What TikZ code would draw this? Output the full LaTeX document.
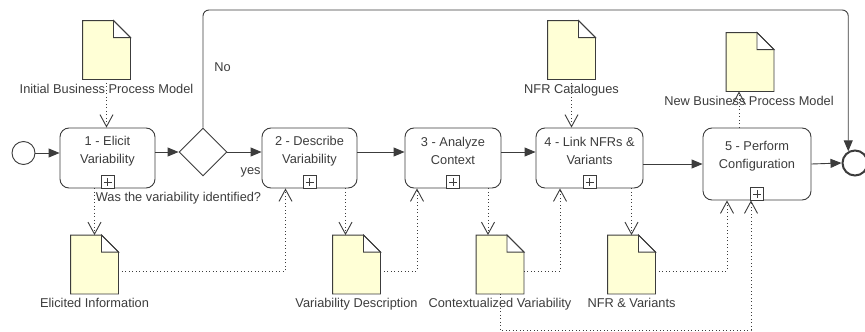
\documentclass[tikz,border=0pt]{standalone}
\usepackage{fontspec}
\setmainfont{Liberation Sans}
\usetikzlibrary{shapes.geometric, arrows.meta, positioning}

\definecolor{docfill}{HTML}{FFFFD6}
\definecolor{ink}{HTML}{3C3C3C}

\tikzset{%
task/.style={
    rectangle, draw=ink, rounded corners=9pt,
    minimum height=60pt, inner sep=0pt
  },
tasktext/.style={align=center, text=ink, font=\fontsize{12.8}{18}\selectfont},
gateway/.style={diamond, draw=ink, fill=white,
    minimum width=48pt, minimum height=48pt, inner sep=0pt},
event/.style={circle, draw=ink, fill=white, inner sep=0pt},
docbox/.style={rectangle, minimum width=47pt, minimum height=58pt, inner sep=0pt},
doclabel/.style={text=ink, inner sep=1pt, font=\fontsize{12.8}{14}\selectfont},
flow/.style={draw=ink, -{Triangle[length=11pt,width=9pt]}},
assoc/.style={draw=ink, dash pattern=on 1pt off 2.5pt,
    -{Straight Barb[length=12pt,width=13pt]}}
}

\newcommand\docshape[1]{%
  \fill[docfill] (#1.south west) -- (#1.north west) -- ([xshift=-17pt]#1.north east)
    -- ([yshift=-17pt]#1.north east) -- (#1.south east) -- cycle;
  \draw[ink, fill=white] ([xshift=-17pt]#1.north east) -- ([yshift=-17pt]#1.north east)
    -- ([xshift=-17pt,yshift=-17pt]#1.north east) -- cycle;
  \draw[ink] (#1.south west) -- (#1.north west) -- ([xshift=-17pt]#1.north east)
    -- ([yshift=-17pt]#1.north east) -- (#1.south east) -- cycle;
}
\newcommand\subproc[1]{%
  \draw[ink, fill=white] ([xshift=-6.5pt]#1.south) rectangle ([xshift=6.5pt,yshift=13pt]#1.south);
  \draw[ink] ([yshift=2.5pt]#1.south) -- ([yshift=10.5pt]#1.south)
    ([xshift=-4pt,yshift=6.5pt]#1.south) -- ([xshift=4pt,yshift=6.5pt]#1.south);
}

\begin{document}
\begin{tikzpicture}[x=1pt, y=-1pt, line width=0.9pt]
\useasboundingbox (0,0) rectangle (865,332);
\coordinate (top) at (0,10);
\coordinate (bottom) at (0,330);

% process
\node[event, minimum size=23pt] (start) at (23.5,153) {};
\node[task, minimum width=95pt,
  label={[tasktext, yshift=7pt]center:1 - Elicit\\Variability}] (elicit) at (107.5,158) {};
\node[gateway] (gw) at (203,152) {};
\node[task, minimum width=95pt,
  label={[tasktext, yshift=7pt]center:2 - Describe\\Variability}] (describe) at (309.5,158) {};
\node[task, minimum width=96pt,
  label={[tasktext, yshift=7pt]center:3 - Analyze\\Context}] (analyze) at (453,158) {};
\node[task, minimum width=107pt,
  label={[tasktext, yshift=7pt]center:4 - Link NFRs \&\\Variants}] (link) at (589.5,158) {};
\node[task, minimum width=108pt, minimum height=72pt,
  label={[tasktext, yshift=8pt]center:5 - Perform\\Configuration}] (config) at (757,164) {};
\node[event, line width=2pt, minimum size=25pt] (end) at (855,163) {};
\subproc{elicit}
\subproc{describe}
\subproc{analyze}
\subproc{link}
\subproc{config}

\node[doclabel, anchor=west] (no) at (213,67) {No};
\node[doclabel, anchor=east] (yes) at (262,172) {yes};
\node[doclabel] (question) at (178.5,198) {Was the variability identified?};

\draw[flow] (start.east) -- (start.east -| elicit.west);
\draw[flow] ([yshift=6pt]elicit.east) -- (gw.west);
\draw[flow] (gw.east) -- (gw.east -| describe.west);
\draw[flow] ([yshift=6pt]describe.east) -- ([yshift=6pt]analyze.west);
\draw[flow] ([yshift=6pt]analyze.east) -- ([yshift=6pt]link.west);
\draw[flow] ([yshift=-6pt]link.east) -- (config.west);
\draw[flow] (config.east) -- (end.west);
\draw[flow, rounded corners=6pt] (gw.north) -- (gw.north |- top) -- (top -| end.120) -- (end.120);

% data objects
\node[docbox, label={[doclabel, label distance=3pt]below:Initial Business Process Model}] (dinit) at (106.5,50) {};
\node[docbox, label={[doclabel, label distance=3pt]below:NFR Catalogues}] (dnfr) at (571.5,50) {};
\node[docbox, label={[doclabel, label distance=3pt, xshift=-1pt]below:New Business Process Model}] (dnew) at (750,62) {};
\node[docbox, label={[doclabel, label distance=3pt]below:Elicited Information}] (deli) at (94.5,264.5) {};
\node[docbox, label={[doclabel, label distance=3pt]below:Variability Description}] (dvar) at (356.5,264.5) {};
\node[docbox, label={[doclabel, label distance=3pt]below:Contextualized Variability}] (dctx) at (500,264.5) {};
\node[docbox, label={[doclabel, label distance=3pt]below:NFR \& Variants}] (dnfv) at (631.5,264.5) {};
\foreach \d in {dinit, dnfr, dnew, deli, dvar, dctx, dnfv}
  \docshape{\d};

\draw[assoc] (dinit.south) -- (dinit.south |- elicit.north);
\draw[assoc] (dnfr.south) -- (dnfr.south |- link.north);
\draw[assoc] ([xshift=-18pt]config.north) -- ([xshift=-18pt]config.north |- dnew.south);
\draw[assoc] (deli.north |- elicit.south) -- (deli.north);
\draw[assoc] ([yshift=-6.5pt]deli.east) -| ([xshift=-24pt]describe.south);
\draw[assoc] ([xshift=-11pt]dvar.north |- describe.south) -- ([xshift=-11pt]dvar.north);
\draw[assoc] ([yshift=-6.5pt]dvar.east) -| ([xshift=-36pt]analyze.south);
\draw[assoc] ([xshift=-12pt]dctx.north |- analyze.south) -- ([xshift=-12pt]dctx.north);
\draw[assoc] ([yshift=-6.5pt]dctx.east) -| ([xshift=-29.5pt]link.south);
\draw[assoc] (dnfv.north |- link.south) -- (dnfv.north);
\draw[assoc] ([yshift=-6.5pt]dnfv.east) -| ([xshift=-30pt]config.south);
\draw[assoc] (dctx.south) -- (dctx.south |- bottom) -| ([xshift=-6pt]config.south);
\end{tikzpicture}
\end{document}
